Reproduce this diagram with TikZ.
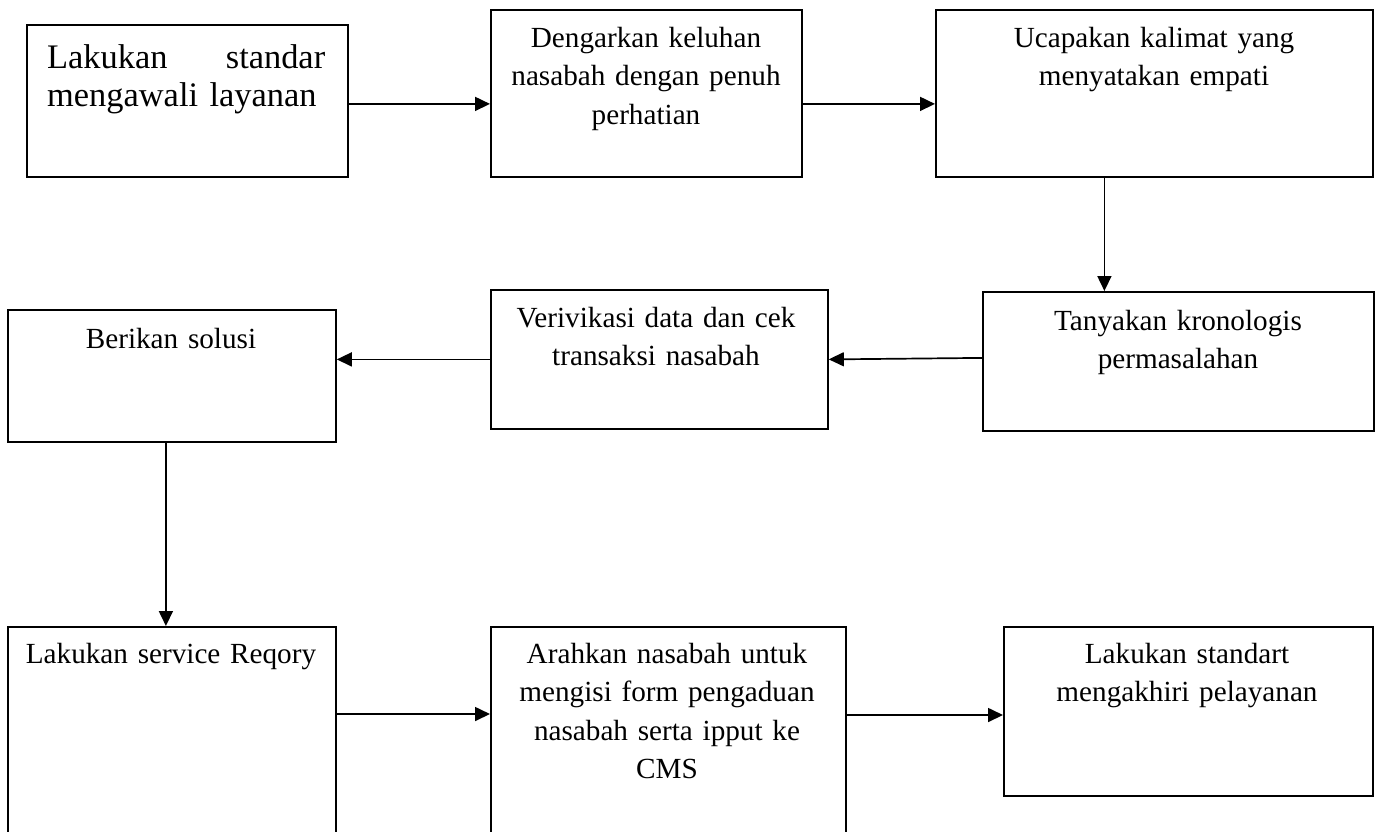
\documentclass[tikz,border=0pt]{standalone}
\usepackage{fontspec}
\setmainfont{Liberation Serif}
\usetikzlibrary{arrows.meta,calc}
\tikzset{
  box/.style={draw, line width=1.8pt, rectangle, inner sep=0pt, anchor=north west},
  txt/.style={font=\fontsize{29.2}{38.5}\selectfont, text width=360pt, align=center, inner sep=0pt, anchor=base},
  bigtxt/.style={font=\fontsize{34.4}{38}\selectfont, text width=278pt, align=left, inner sep=0pt, anchor=base west},
  arr/.style={-{Triangle[length=15pt,width=14pt]}, line width=1.7pt}
}
\begin{document}
\begin{tikzpicture}[x=1pt,y=-1pt]
\clip (0,0) rectangle (1375,831);
\fill[white] (0,0) rectangle (1375,831);
% boxes
\node[box, minimum width=321pt, minimum height=152pt] (b1) at (26,24) {};
\node[box, minimum width=311pt, minimum height=167pt] (b2) at (490,9) {};
\node[box, minimum width=437pt, minimum height=167pt] (b3) at (935,9) {};
\node[box, minimum width=391pt, minimum height=139pt] (b4) at (982,291) {};
\node[box, minimum width=337pt, minimum height=139pt] (b5) at (490,289) {};
\node[box, minimum width=328pt, minimum height=132pt] (b6) at (7,309) {};
\node[box, minimum width=328pt, minimum height=240pt] (b7) at (7,626) {};
\node[box, minimum width=355pt, minimum height=240pt] (b8) at (490,626) {};
\node[box, minimum width=369pt, minimum height=169pt] (b9) at (1003,626) {};
% texts
\node[bigtxt] (t1) at (47,68) {Lakukan\hfill standar\\mengawali layanan};
\node[txt] (t2) at (646,47) {Dengarkan keluhan\\nasabah dengan penuh\\perhatian};
\node[txt] (t3) at (1154,47) {Ucapakan kalimat yang\\menyatakan empati};
\node[txt] (t4) at (1178,330) {Tanyakan kronologis\\permasalahan};
\node[txt] (t5) at (656,327) {Verivikasi data dan cek\\transaksi nasabah};
\node[txt] (t6) at (171,348) {Berikan solusi};
\node[txt] (t7) at (171,663) {Lakukan service Reqory};
\node[txt] (t8) at (667,663) {Arahkan nasabah untuk\\mengisi form pengaduan\\nasabah serta ipput ke\\CMS};
\node[txt] (t9) at (1187,663) {Lakukan standart\\mengakhiri pelayanan};
% connectors
\draw[arr] ($(b1.east)+(0,3)$) -- ($(b2.west)+(0,10.5)$);
\draw[arr] ($(b2.east)+(0,10.5)$) -- ($(b3.west)+(0,10.5)$);
\draw[arr] ($(b3.south)+(-50,0)$) -- ($(b4.north)+(-74,0)$);
\draw[arr] ($(b4.west)+(0,-3.5)$) -- ($(b5.east)+(0,0)$);
\draw[arr] (b5.west) -- (b6.east |- b5.west);
\draw[arr] ($(b6.south)+(-6,0)$) -- ($(b7.north)+(-6,0)$);
\draw[arr] (b7.east |- 0,714) -- (b8.west |- 0,714);
\draw[arr] (b8.east |- 0,715) -- (b9.west |- 0,715);
\end{tikzpicture}
\end{document}
